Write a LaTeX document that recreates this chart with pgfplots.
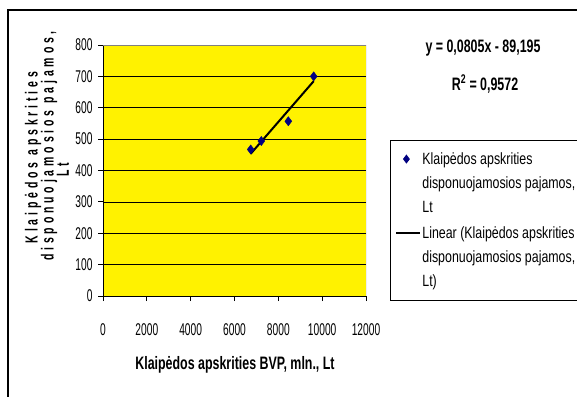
\documentclass[border=0pt]{standalone}
\usepackage{pgfplots}
\pgfplotsset{compat=1.18}
\usepackage{fontspec}
\setmainfont{Liberation Sans}
\newfontfamily\tickfont[FakeStretch=0.6]{Liberation Sans}
\newfontfamily\legfont[FakeStretch=0.76]{Liberation Sans}
\newfontfamily\labfont[FakeStretch=0.69]{Liberation Sans}
\newfontfamily\spfont[FakeStretch=0.6,LetterSpace=22]{Liberation Sans}
\definecolor{navy}{RGB}{0,0,128}
\pgfplotsset{
  scatlegend/.style={legend image code/.code={\path (0pt,-24pt) (24pt,24pt);
    \draw[mark repeat=2,mark phase=2,##1,mark size=3.9pt] plot coordinates {(0pt,24pt)(10pt,24pt)(24pt,24pt)};}},
  linelegend/.style={legend image code/.code={\path (0pt,-24pt) (24pt,24pt);
    \draw[##1] (0pt,24pt) -- (24pt,24pt);}},
}
\begin{document}
\begin{tikzpicture}[x=1pt,y=1pt]
\useasboundingbox (0,0) rectangle (577,396);
\draw[line width=2pt] (8,-5) -- (8,386) -- (590,386);
\begin{axis}[
  at={(103pt,100pt)}, anchor=south west,
  scale only axis, width=263pt, height=251pt,
  xmin=0, xmax=12000, ymin=0, ymax=800,
  xtick={0,2000,...,12000}, ytick={0,100,...,800},
  axis x line=bottom, axis y line=left,
  axis line style={-, black, line width=0.8pt},
  axis background/.style={fill=yellow},
  ymajorgrids, grid style={black, line width=0.7pt},
  tick align=outside, major tick length=5pt,
  tick style={black, line width=0.8pt},
  scaled x ticks=false,
  /pgf/number format/1000 sep={},
  /pgf/number format/assume math mode=true,
  tick label style={font=\tickfont\fontsize{17}{20}\selectfont},
  xticklabel style={yshift=-19pt},
  yticklabel style={xshift=-2pt},
  legend style={at={(1.0913,0.6215)}, anchor=north west, draw=black, line width=0.8pt,
    fill=white, inner xsep=5pt, inner ysep=10pt, row sep=9pt,
    font=\legfont\fontsize{16.3}{24}\selectfont,
    nodes={align=left, inner xsep=1pt}},
  legend cell align=left,
]
\addplot[only marks, mark=diamond*, mark size=4.6pt, color=navy, scatlegend]
  coordinates {(6739,467) (7223,494) (8455,557) (9613,700)};
\addlegendentry{Klaipėdos apskrities\\disponuojamosios pajamos,\\Lt}
\addplot[black, line width=2pt, no marks, linelegend]
  coordinates {(6739,453.3) (9613,684.7)};
\addlegendentry{Linear (Klaipėdos apskrities\\disponuojamosios pajamos,\\Lt)}
\draw[gray, line width=1pt] (rel axis cs:0,1) -- (rel axis cs:1,1) -- (rel axis cs:1,0);
\end{axis}
\node[rotate=90, font=\spfont\bfseries\fontsize{17.5}{17.5}\selectfont] at (33,238.5) {Klaipėdos apskrities};
\node[rotate=90, font=\spfont\bfseries\fontsize{17.5}{17.5}\selectfont] at (49,250) {disponuojamosios pajamos,};
\node[rotate=90, font=\spfont\bfseries\fontsize{17.5}{17.5}\selectfont] at (63,226) {Lt};
\node[font=\labfont\bfseries\fontsize{18}{20}\selectfont] at (235,31) {Klaipėdos apskrities BVP, mln., Lt};
\node[font=\labfont\bfseries\fontsize{18}{20}\selectfont] at (483,348) {y = 0,0805x - 89,195};
\node[font=\labfont\bfseries\fontsize{18}{20}\selectfont] at (485,312) {R\textsuperscript{2} = 0,9572};
\end{tikzpicture}
\end{document}
